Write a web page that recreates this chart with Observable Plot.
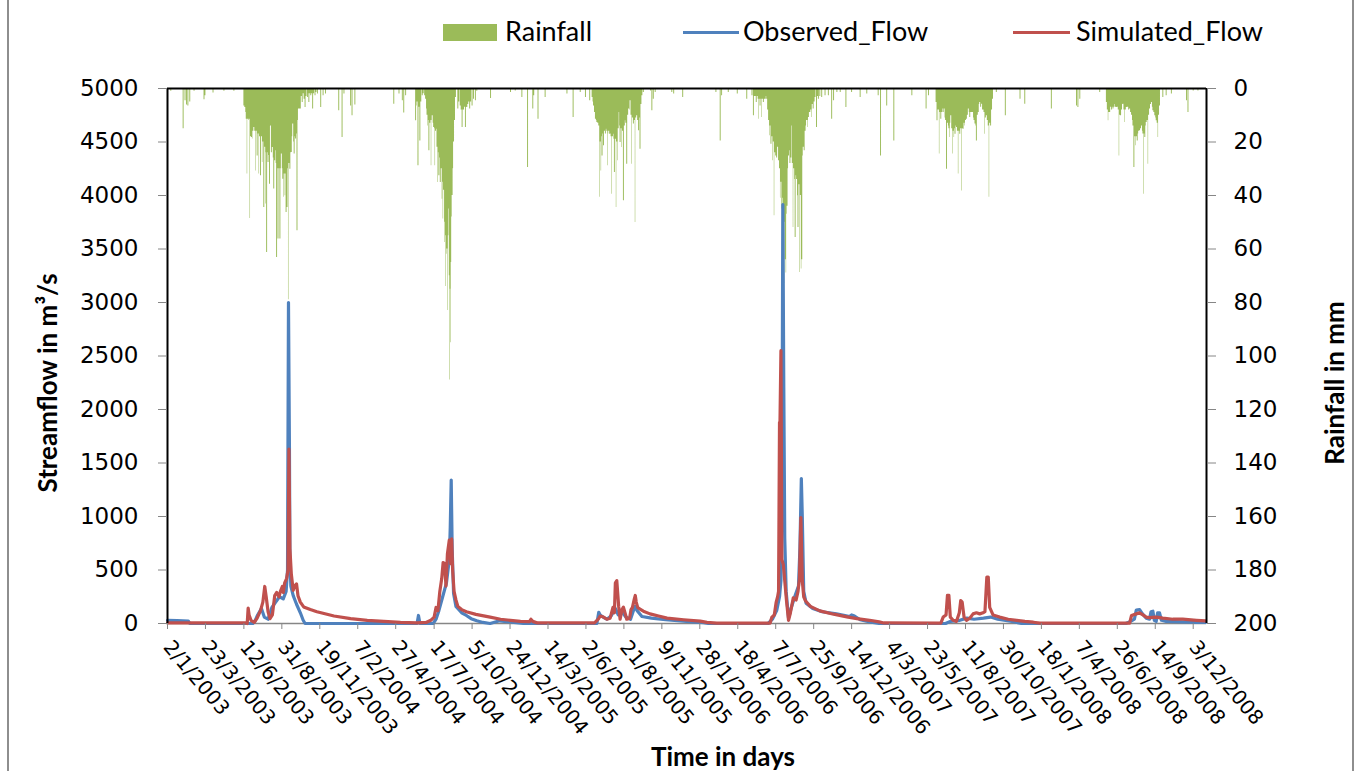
<!DOCTYPE html>
<html><head><meta charset="utf-8">
<script src="https://cdn.jsdelivr.net/npm/d3@7"></script>
<script src="https://cdn.jsdelivr.net/npm/@observablehq/plot@0.6"></script>
<style>
html,body{margin:0;padding:0;background:#fff;}
body{width:1362px;height:771px;overflow:hidden;position:relative;}
#frame{position:absolute;left:7px;top:-3px;width:1343px;height:790px;border-left:2px solid #8e8e8e;border-right:2px solid #8e8e8e;pointer-events:none;}
#legend{position:relative;height:62px;font-family:Lato,"Open Sans",sans-serif;font-size:27px;color:#000;}
.sw{position:absolute;}
.lt{position:absolute;top:14px;line-height:34px;white-space:nowrap;}
#chart{position:absolute;left:0;top:62px;}
</style></head>
<body>
<div id="legend">
  <div class="sw" style="left:443px;top:24px;width:54px;height:17px;background:#9BBB59"></div>
  <div class="lt" style="left:505px">Rainfall</div>
  <div class="sw" style="left:683px;top:31px;width:56px;height:3px;background:#4F81BD"></div>
  <div class="lt" style="left:743px">Observed_Flow</div>
  <div class="sw" style="left:1013px;top:31px;width:57px;height:3px;background:#C0504D"></div>
  <div class="lt" style="left:1076px">Simulated_Flow</div>
</div>
<div id="chart"></div>
<div id="frame"></div>
<script>
// ---- data: day offsets from 2/1/2003 ----
const seriesStart = "2003-01-02";
const tickLabels = ["2/1/2003","23/3/2003","12/6/2003","31/8/2003","19/11/2003","7/2/2004","27/4/2004","17/7/2004","5/10/2004","24/12/2004","14/3/2005","2/6/2005","21/8/2005","9/11/2005","28/1/2006","18/4/2006","7/7/2006","25/9/2006","14/12/2006","4/3/2007","23/5/2007","11/8/2007","30/10/2007","18/1/2008","7/4/2008","26/6/2008","14/9/2008","3/12/2008"];
const flowTicks = [0,500,1000,1500,2000,2500,3000,3500,4000,4500,5000];
const rainTicks = [0,20,40,60,80,100,120,140,160,180,200];

// rainfall [day, mm]
const rain2003 = [[7,1.0],[33,15.0],[37,4.6],[40,6.2],[43,6.5],[47,5.0],[56,1.0],[77,4.2],[79,2.7],[96,1.7],[119,1.0],[140,1.0],
[161,6.5],[163,7.1],[165,9],[166,11.5],[168,32],[169,11.5],[171,12],[172,11.5],[174,48.6],[175,18],[177,18.3],[179,18.9],[180,16],[182,14.6],[184,16],[186,30.8],[187,16],[189,25.2],[191,17],[193,32],[194,18],[196,32.6],[198,18],[200,27.7],[201,20],[203,44.5],[205,22],[207,43.2],[208,24],[209,61.3],[211,24],[212,27.7],[214,25],[215,35.8],[217,14],[219,24],[221,22.1],[223,26],[224,37.6],[226,27],[228,23.3],[229,28],[230,63.2],[232,30],[233,56.3],[235,30],[237,56.3],[239,30],[240,24.5],[242,30],[243,33.9],[245,40.7],[246,32],[248,40.1],[249,32],[250,46.4],[252,44.5],[254,30],[255,79],[256,28],[258,30.2],[260,24],[261,23.9],[263,18],[264,13.3],[266,20],[267,24.5],[269,18],[270,18.9],[272,17],[273,53.2],[275,12],[276,7.7],[278,7.7],
[280,7.7],[282,3],[284,5.2],[286,2],[288,4],[290,7.1],[292,3],[295,3.4],[297,2],[298,5.2],[300,2],[302,2.7],[304,2],[306,7.7],[308,2],[311,2.7],[313,1.5],[316,2.1],[323,7.1],[328,2.7],[333,2.1],[361,8.3]];
const rain2004 = [[368,18.3],[372,2.1],[386,6.5],[389,10.2],[395,6.2],[477,5.9],[488,2.1],[495,4.6],[498,9.2],[502,2.7],
[523,12.1],[525,6.5],[526,5],[528,28.9],[530,7],[532,19.6],[534,5],[537,2.7],[539,2],[542,2.7],[544,4],[546,7.7],[547,10],[549,14],[550,12],[551,23.3],[553,13],[555,12],[556,28.9],[557,12],[558,10.2],[560,13],[561,14.6],[563,15],[564,28.9],[565,16],[567,15.2],[568,22],[570,35.1],[571,24],[572,32.6],[574,26],[575,35.1],[577,30],[579,41.4],[580,35],[581,48.8],[582,38],[584,57.6],[585,50],[586,74],[587,55],[588,62],[589,60],[591,83],[592,55],[593,45],[594,70],[595,109],[596,75],[597,95],[598,65],[599,48],[600,40],[602,30],[603,20],[605,12],[607,3.4],
[612,7.7],[614,5],[617,6.5],[619,8],[621,14.6],[623,8],[624,8],[626,7],[628,14.6],[630,7],[631,7.1],[633,6],[635,5],[637,7.7],[639,5],[642,6.5],[645,4],[649,4.6],[652,1.0],[681,3.7],[723,1.5]];
const rain2005 = [[733,0.9],[747,3.4],[759,29.5],[770,7.7],[772,2.7],[781,11.5],[796,3.4],[842,2.1],[855,10.8],[870,1.5],[881,3.4],[890,4.6],
[895,3.4],[897,5],[898,6.5],[900,9],[902,11.5],[904,12],[905,12.7],[907,13],[909,14],[911,40.7],[912,20],[914,30.8],[915,18],[916,25.2],[918,17],[919,21.4],[921,16],[923,17],[925,15.2],[926,16],[928,28.9],[929,17],[930,16],[932,17.1],[934,17],[935,18],[937,39.5],[938,18],[940,17.1],[941,19],[942,31.4],[944,19],[946,44.5],[947,20],[949,27],[950,15],[952,9],[953,14],[954,20.2],[956,15],[958,22.1],[959,16],[961,42],[963,14],[965,12.1],[966,13],[968,28.3],[970,10],[972,7.7],[974,8],[975,4.6],[977,10],[979,28.3],[980,11],[982,13.3],[984,12],[986,50.1],[987,11],[989,10.2],[991,12],[993,15.8],[995,11],[996,22.7],[998,6],[1000,2.7],[1003,1.5],[1018,0.9],[1021,8.3],[1024,4],[1028,1.5],[1063,1.5],[1067,2.1],[1086,3.4]];
const rain2006 = [[1156,1.5],[1165,19.6],[1168,2.7],[1182,1.5],[1201,2.1],[1221,4],
[1232,2.7],[1235,10.2],[1237,3],[1239,3],[1241,5.2],[1243,3],[1245,4],[1246,11.5],[1247,4],[1249,6.5],[1251,4],[1253,10.8],[1254,4],[1256,5.2],[1258,4],[1260,4],[1262,3],[1263,4],[1265,8],[1267,12],[1269,17.7],[1270,14],[1272,20.8],[1274,18],[1276,27],[1277,20],[1279,47.6],[1280,24],[1282,25.2],[1284,26],[1286,22],[1288,27],[1290,30],[1292,41],[1293,35],[1295,45],[1296,60],[1297,41],[1298,50],[1300,73],[1301,50],[1302,64],[1304,69],[1305,47],[1306,44],[1308,30],[1309,25.2],[1311,23.3],[1312,28],[1314,26],[1316,14],[1317,28],[1319,52],[1320,30],[1322,34],[1323,55.7],[1325,32.6],[1326,34],[1328,40.1],[1329,52],[1331,36],[1333,68.8],[1334,40],[1336,67.5],[1337,64],[1339,25.2],[1340,22],[1342,23.3],[1344,16],[1346,14],[1347,12],[1349,14.6],[1350,12],[1351,10.8],[1353,9],[1354,9],[1356,8],[1358,10.8],[1359,6],[1361,7.7],[1363,5],[1365,3.4],[1368,14.6],[1370,3],[1372,4],[1375,3],[1379,3.4],[1386,2.7],[1393,2.7],[1400,11.5],[1404,4.6],[1411,1.5],[1418,1.5],[1430,7.1],[1442,1.5]];
const rain2007 = [[1460,3.4],[1474,2.1],[1498,2.7],[1503,25.2],[1516,6.5],[1531,19.6],[1569,2.7],[1599,7.7],[1604,2.7],
[1620,5.2],[1622,12.1],[1624,8],[1625,8],[1627,24.5],[1628,9],[1630,11.5],[1632,9],[1634,7.7],[1635,9],[1637,7.7],[1639,11],[1640,12],[1642,30.2],[1644,13],[1646,14],[1647,15],[1649,18.3],[1650,13],[1651,10.2],[1653,15],[1655,24.5],[1656,16],[1658,18.3],[1659,15],[1660,17.1],[1662,14],[1663,14.6],[1665,16],[1667,32],[1668,16],[1670,17.1],[1672,15],[1674,38.3],[1675,15],[1677,15.2],[1679,13],[1681,14],[1682,12],[1684,11.5],[1686,10],[1688,7.7],[1690,9],[1691,10.8],[1693,9],[1695,9],[1697,9],[1699,11],[1700,12],[1702,13.3],[1704,14],[1705,19.6],[1707,10],[1709,9],[1711,6],[1712,5.2],[1714,7],[1716,5.9],[1718,8],[1720,8],[1721,9],[1723,17.1],[1724,11],[1726,10.2],[1728,12],[1730,14],[1732,40.7],[1733,13],[1735,14],[1737,8],[1739,4],[1747,1.5],[1766,10.2],[1797,4],[1807,5.9]];
const rain2008 = [[1863,7.7],[1916,6.5],[1919,7.1],[1923,4],[1965,1.5],
[1979,5.2],[1981,8],[1983,12.1],[1984,9],[1986,9],[1988,7],[1990,8],[1992,7],[1993,7.7],[1995,7],[1997,6],[1998,7],[2000,7.1],[2002,7],[2004,8],[2006,25.2],[2007,10],[2009,10.2],[2011,8],[2013,6],[2014,5.9],[2016,8],[2018,12.7],[2019,8],[2021,7.1],[2023,7],[2024,7],[2026,8],[2028,7.7],[2030,9],[2032,10],[2034,12],[2035,14],[2037,29.5],[2039,18],[2041,21.4],[2042,18],[2044,19.6],[2046,17],[2047,16],[2049,15.8],[2051,15],[2053,14],[2055,16],[2056,17],[2058,39.5],[2059,17],[2060,18.3],[2062,14],[2063,12.7],[2065,12],[2067,28.3],[2068,10],[2070,7.7],[2072,6],[2074,5.2],[2076,7],[2077,8.3],[2079,9],[2081,10.2],[2083,11],[2084,12.1],[2086,13],[2088,18.3],[2089,10],[2091,6.5],[2098,3.4],[2105,2.7],[2116,2.1],[2148,4.6],[2151,9],[2162,0.9],[2172,0.9]];

// observed flow [day, m3/s]
const observedFlow = [[0,30],[20,28],[44,22],[47,0],[180,0],[184,20],[190,80],[198,140],[204,60],[212,40],[220,150],[228,200],[236,250],[244,230],[250,300],[253,500],[255,3000],[257,1650],[258,600],[260,350],[265,260],[272,180],[280,100],[286,30],[290,0],
[526,0],[529,75],[532,0],[560,0],[566,40],[572,120],[580,250],[588,380],[594,600],[596,900],[598,1340],[600,700],[603,280],[608,160],[620,100],[630,75],[640,45],[652,25],[665,10],[680,0],
[700,25],[720,15],[740,5],[750,0],[905,0],[909,105],[912,80],[918,60],[926,40],[935,70],[944,140],[950,80],[958,110],[966,60],[976,40],[985,160],[990,120],[1000,65],[1020,50],[1050,35],[1100,18],[1130,8],[1140,0],
[1266,0],[1275,40],[1284,120],[1290,250],[1293,400],[1295,1200],[1297,3916],[1299,2200],[1301,800],[1304,300],[1309,50],[1315,150],[1322,250],[1330,350],[1333,700],[1336,1355],[1338,1000],[1341,300],[1346,190],[1360,140],[1380,110],[1410,90],[1438,65],[1442,80],[1448,70],[1460,35],[1480,15],[1500,0],
[1640,0],[1650,20],[1670,30],[1685,50],[1700,40],[1720,50],[1735,60],[1750,40],[1780,20],[1800,0],
[2020,0],[2030,20],[2038,40],[2042,125],[2049,130],[2055,90],[2063,50],[2070,40],[2073,110],[2077,115],[2080,30],[2084,20],[2087,100],[2091,100],[2095,30],[2105,20],[2140,15],[2170,10],[2188,10]];

// simulated flow [day, m3/s]
const simulatedFlow = [[0,5],[165,5],[168,0],[170,145],[172,80],[176,30],[183,10],[189,50],[196,120],[201,200],[205,346],[208,250],[212,110],[216,45],[221,80],[226,260],[230,290],[235,250],[238,300],[242,346],[244,290],[247,380],[251,420],[254,500],[256,1630],[258,700],[261,460],[265,310],[268,350],[272,370],[275,260],[280,200],[287,155],[301,130],[315,110],[351,70],[386,45],[421,30],[456,20],[491,10],[526,5],
[545,10],[555,30],[562,60],[566,150],[570,120],[574,300],[578,420],[581,570],[584,560],[587,350],[590,650],[594,780],[597,560],[599,790],[601,500],[604,300],[608,220],[612,160],[620,130],[630,110],[650,85],[680,60],[702,40],[744,20],[763,18],[766,40],[770,20],[780,5],
[900,5],[908,40],[912,70],[919,60],[926,40],[933,50],[939,150],[942,100],[944,380],[947,400],[951,160],[954,40],[958,130],[961,153],[965,90],[968,40],[974,50],[977,130],[980,150],[984,230],[986,262],[988,200],[991,150],[996,134],[1003,115],[1017,90],[1035,70],[1053,50],[1088,35],[1123,22],[1137,10],[1158,3],
[1270,3],[1274,60],[1279,80],[1283,200],[1286,250],[1288,300],[1290,1880],[1291,1880],[1293,2550],[1295,600],[1298,550],[1301,400],[1305,200],[1309,30],[1313,100],[1319,240],[1325,220],[1329,300],[1332,420],[1335,990],[1338,400],[1341,250],[1345,210],[1355,160],[1375,118],[1404,87],[1432,62],[1453,45],[1480,30],[1500,15],[1510,5],
[1630,3],[1635,60],[1641,80],[1644,262],[1647,262],[1650,60],[1656,30],[1663,20],[1669,100],[1672,215],[1675,200],[1679,60],[1684,30],[1691,50],[1698,90],[1705,100],[1712,90],[1719,100],[1723,110],[1727,433],[1730,433],[1733,150],[1740,80],[1754,60],[1772,40],[1790,30],[1807,20],[1825,12],[1839,3],
[2028,3],[2032,75],[2042,90],[2049,100],[2056,80],[2063,60],[2070,55],[2084,60],[2098,50],[2119,40],[2140,40],[2169,30],[2188,25]];

// ---- build tables ----
const DAY = 864e5;
const t0 = Date.parse(seriesStart + "T00:00:00Z");
const toDate = d => new Date(t0 + d * DAY);
const parseLabel = s => { const [d, m, y] = s.split("/").map(Number); return new Date(Date.UTC(y, m - 1, d)); };
const tickDates = tickLabels.map(parseLabel);
const labelOf = new Map(tickLabels.map((s, i) => [+tickDates[i], s]));
const xStart = toDate(0), xEnd = new Date(Date.UTC(2008, 11, 31));

// rainfall as one stepped outline (each daily value holds until the next reading, or 2 days if isolated)
const rainAll = [...rain2003, ...rain2004, ...rain2005, ...rain2006, ...rain2007, ...rain2008];
const rainSteps = [{date: xStart, mm: 0}];
rainAll.forEach(([d, mm], i) => {
  const next = rainAll[i + 1];
  const gap = next ? next[0] - d : Infinity;
  rainSteps.push({date: toDate(d), mm});
  if (gap > 2.5) rainSteps.push({date: toDate(d + 2), mm: 0});
});
rainSteps.push({date: xEnd, mm: 0});

const obs = observedFlow.map(([d, v]) => ({date: toDate(d), flow: v}));
const sim = simulatedFlow.map(([d, v]) => ({date: toDate(d), flow: v}));
const rainToY = mm => 5000 - mm * 25;
const TITLE = {fontFamily: "Lato, sans-serif", fontWeight: "bold", fontSize: 26, fill: "#000", textAnchor: "middle", lineAnchor: "middle"};

const chart = Plot.plot({
  width: 1362, height: 709,
  marginLeft: 167, marginRight: 156, marginTop: 26, marginBottom: 148,
  x: {type: "utc", domain: [xStart, xEnd]},
  y: {domain: [0, 5000]},
  style: {fontFamily: "'DejaVu Sans', sans-serif", fontSize: "22px", color: "#000", background: "transparent", overflow: "visible"},
  marks: [
    Plot.areaY(rainSteps, {x: "date", y1: 5000, y2: d => rainToY(d.mm), curve: "step-after", fill: "#9BBB59"}),
    Plot.ruleY([0], {stroke: "#868686", strokeWidth: 1.5}),
    Plot.line(obs, {x: "date", y: "flow", stroke: "#4F81BD", strokeWidth: 3.2, strokeLinejoin: "round"}),
    Plot.line(sim, {x: "date", y: "flow", stroke: "#C0504D", strokeWidth: 3.2, strokeLinejoin: "round"}),
    Plot.ruleY([5000], {stroke: "#000", strokeWidth: 2}),
    Plot.ruleX([xStart], {stroke: "#000", strokeWidth: 2}),
    Plot.ruleX([xEnd], {stroke: "#000", strokeWidth: 2}),
    Plot.axisY({ticks: flowTicks, tickSize: 9, tickPadding: 20, stroke: "#868686", fontSize: 23, tickFormat: d => String(d), label: null}),
    Plot.axisY({anchor: "right", ticks: rainTicks.map(rainToY), tickSize: 9, tickPadding: 18, stroke: "#868686", fontSize: 23,
      tickFormat: v => String(Math.round((5000 - v) / 25)), label: null}),
    Plot.axisX({ticks: tickDates, tickFormat: d => labelOf.get(+d), tickRotate: 50, tickSize: 6, tickPadding: 14, stroke: "#868686", fontSize: 20, label: null}),
    Plot.text(["Streamflow in m³/s"], {...TITLE, frameAnchor: "left", dx: -119, dy: 27, rotate: -90}),
    Plot.text(["Rainfall in mm"], {...TITLE, frameAnchor: "right", dx: 129, dy: 27, rotate: -90}),
    Plot.text(["Time in days"], {...TITLE, frameAnchor: "bottom", dx: 36, dy: 134})
  ]
});
document.getElementById("chart").appendChild(chart);
</script>
</body></html>
